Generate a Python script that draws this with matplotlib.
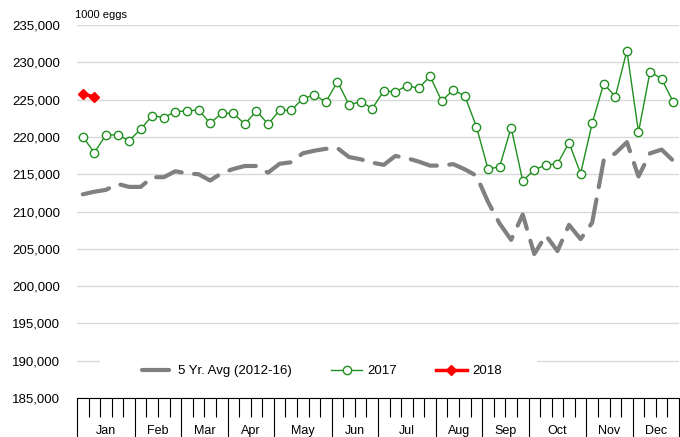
import numpy as np
import matplotlib.pyplot as plt
from matplotlib.patches import Rectangle

plt.rcParams['font.family'] = ['Liberation Sans', 'DejaVu Sans']

# weekly table egg production, 1000 eggs
weeks = np.arange(1, 53)

avg_5yr = [212300, 212650, 212900, 213700, 213300, 213300, 214600, 214600, 215400, 215100,
           215000, 214150, 215150, 215700, 216100, 216100, 215200, 216400, 216600, 217800,
           218150, 218400, 218500, 217300, 217000, 216550, 216250, 217450, 217150, 216700,
           216150, 216150, 216350, 215650, 214800, 211300, 208400, 206200, 209600, 204300,
           206800, 204700, 208200, 206300, 208500, 216900, 217800, 219300, 214700, 217800,
           218300, 216800]

y2017 = [220000, 217900, 220270, 220270, 219500, 221030, 222850, 222590, 223390, 223480,
         223610, 221830, 223170, 223170, 221700, 223520, 221700, 223560, 223560, 225130,
         225620, 224690, 227410, 224290, 224730, 223790, 226160, 226030, 226870, 226520,
         228120, 224820, 226290, 225490, 221380, 215710, 215980, 221250, 214110, 215580,
         216250, 216380, 219240, 215080, 221830, 227140, 225400, 231560, 220630, 228750,
         227770, 224690]

y2018 = [225760, 225360]

months = ['Jan', 'Feb', 'Mar', 'Apr', 'May', 'Jun', 'Jul', 'Aug', 'Sep', 'Oct', 'Nov', 'Dec']
weeks_per_month = [5, 4, 4, 4, 5, 4, 5, 4, 4, 5, 4, 4]

fig = plt.figure(figsize=(6.8, 4.37), dpi=100)
ax = fig.add_axes([77 / 680, 1 - 398 / 437, (679 - 77) / 680, (398 - 25) / 437])

ax.plot(weeks, avg_5yr, color='#808080', lw=3, linestyle=(0, (6.5, 3)),
        dash_capstyle='round', label='5 Yr. Avg (2012-16)', zorder=3)
ax.plot(weeks, y2017, color='#1f8f1f', lw=1, marker='o', ms=6, mfc='white',
        mec='#1f8f1f', mew=1, label='2017', zorder=4)
ax.plot(weeks[:len(y2018)], y2018, color='#ff0000', lw=2.5, marker='D', ms=5,
        mfc='#ff0000', mec='#ff0000', label='2018', zorder=5)

# y axis
ax.set_ylim(185000, 235000)
ax.set_yticks(np.arange(185000, 235001, 5000))
ax.set_yticklabels(['{:,.0f}'.format(v) for v in np.arange(185000, 235001, 5000)])
ax.tick_params(axis='y', length=0, pad=12, labelsize=9.5)
ax.yaxis.grid(True, color='#d9d9d9', lw=1)
ax.set_axisbelow(True)

# x axis: week ticks, long ticks at month borders
ax.set_xlim(0.5, 52.5)
bounds = np.concatenate([[0.5], 0.5 + np.cumsum(weeks_per_month)])
ax.set_xticks(bounds)
ax.set_xticks(np.arange(0.5, 53, 1), minor=True)
ax.set_xticklabels([])
ax.tick_params(axis='x', which='major', length=28, width=0.8, color='black')
ax.tick_params(axis='x', which='minor', length=14, width=0.8, color='black')

centers = (bounds[:-1] + bounds[1:]) / 2
for c, m in zip(centers, months):
    ax.text(c, -0.088, m, transform=ax.get_xaxis_transform(), ha='center',
            va='center', fontsize=9)

for s in ['top', 'right', 'left']:
    ax.spines[s].set_visible(False)
ax.spines['bottom'].set_color('black')
ax.spines['bottom'].set_linewidth(0.8)

fig.text(75 / 680, 1 - 15.5 / 437, '1000 eggs', fontsize=8, va='center')

# white legend area hides the 190,000 gridline
ax.add_patch(Rectangle((100 / 680, 1 - 386 / 437), 437 / 680, 34 / 437,
                       transform=fig.transFigure, facecolor='white',
                       edgecolor='none', zorder=2))
ax.legend(loc='center', bbox_to_anchor=(322 / 680, 1 - 371 / 437),
          bbox_transform=fig.transFigure, ncol=3, fontsize=9.5, frameon=False,
          handlelength=2.3, handletextpad=0.4, columnspacing=3.0)

fig.savefig('out.png', dpi=100)
